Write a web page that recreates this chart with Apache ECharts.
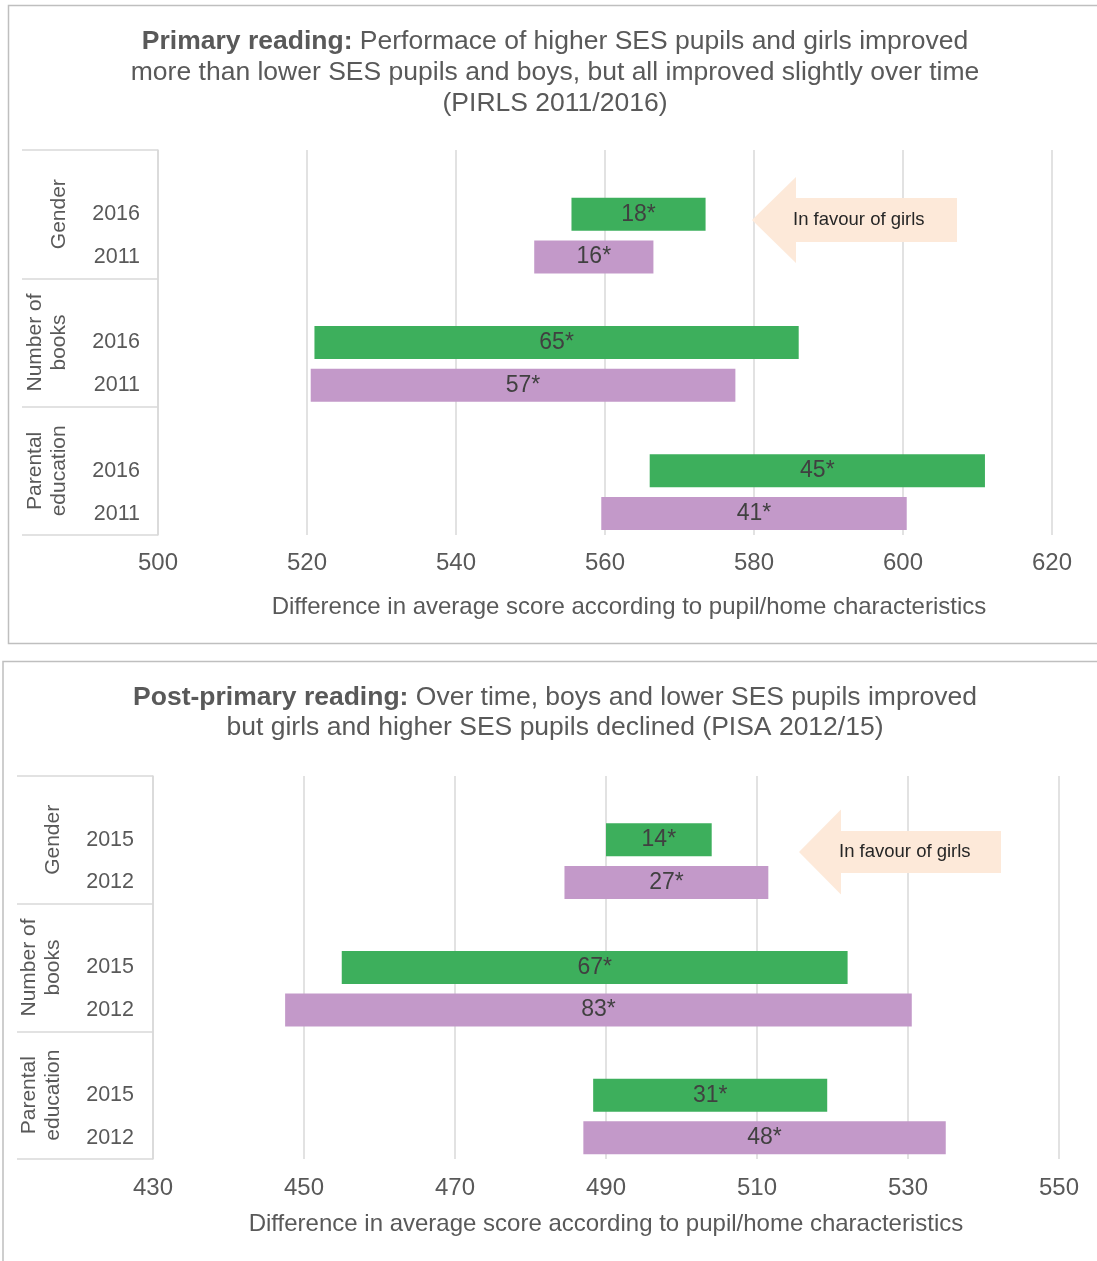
<!DOCTYPE html>
<html>
<head>
<meta charset="utf-8">
<title>Reading score gaps by pupil and home characteristics</title>
<script src="https://cdn.jsdelivr.net/npm/echarts@6/dist/echarts.min.js"></script>
<style>
  html, body { margin: 0; padding: 0; background: #ffffff; }
  #chart { width: 1097px; height: 1261px; }
</style>
</head>
<body>
<div id="chart"></div>
<script>
// Characteristic groups shown on the left of both charts
const groupLabels = ['Gender', 'Number of\nbooks', 'Parental\neducation'];

// Primary reading (PIRLS): years per group, recent first
const primaryYears = ['2016', '2011'];
// Lower end of each bar and the score gap it spans, row order:
// gender (2016, 2011), books (2016, 2011), parental education (2016, 2011)
const primaryLow = [555.5, 550.5, 521, 520.5, 566, 559.5];
const primaryGap = [18, 16, 65, 57, 45, 41];
const primaryTicks = [500, 520, 540, 560, 580, 600, 620];

// Post-primary reading (PISA): years per group, recent first
const postYears = ['2015', '2012'];
const postLow = [490, 484.5, 455, 447.5, 488.3, 487];
const postGap = [14, 27, 67, 83, 31, 48];
const postTicks = [430, 450, 470, 490, 510, 530, 550];

const axisTitle = 'Difference in average score according to pupil/home characteristics';
const arrowText = 'In favour of girls';

const FONT = '"Liberation Sans", Arial, sans-serif';
const TEXT = '#595959';
const GRID_LINE = '#d9d9d9';
const RECENT = '#3daf5c';
const EARLIER = '#c399c9';

// Each group gets an empty spacer row followed by one row per year
function buildRows(years) {
  const rows = [];
  groupLabels.forEach(function (g) {
    rows.push(g + '|');
    years.forEach(function (y) { rows.push(g + '|' + y); });
  });
  return rows;
}

function buildBase(low) {
  const out = [];
  for (let g = 0; g < groupLabels.length; g++) {
    out.push('-');
    out.push(low[g * 2], low[g * 2 + 1]);
  }
  return out;
}

function buildRange(gap) {
  const out = [];
  for (let g = 0; g < groupLabels.length; g++) {
    out.push('-');
    out.push({ value: gap[g * 2], itemStyle: { color: RECENT } });
    out.push({ value: gap[g * 2 + 1], itemStyle: { color: EARLIER } });
  }
  return out;
}

function xAxisFor(gridIndex, ticks, labelMargin, nameGap, namePad) {
  return {
    gridIndex: gridIndex,
    type: 'value',
    min: ticks[0],
    max: ticks[ticks.length - 1],
    interval: ticks[1] - ticks[0],
    axisLine: { show: false },
    axisTick: { show: false },
    splitLine: { show: true, showMinLine: true, showMaxLine: true, lineStyle: { color: GRID_LINE, width: 1.5 } },
    axisLabel: { color: TEXT, fontSize: 24, fontFamily: FONT, margin: labelMargin },
    name: axisTitle,
    nameLocation: 'middle',
    nameGap: nameGap,
    nameTextStyle: { color: TEXT, fontSize: 24, fontFamily: FONT, padding: namePad }
  };
}

function yearAxis(gridIndex, rows, margin) {
  return {
    gridIndex: gridIndex,
    type: 'category',
    data: rows,
    inverse: true,
    position: 'left',
    axisLine: { show: true, lineStyle: { color: GRID_LINE, width: 1.5 } },
    axisTick: { show: false },
    splitLine: { show: false },
    axisLabel: {
      color: TEXT, fontSize: 21.5, fontFamily: FONT, margin: margin,
      interval: 0,
      formatter: function (v) { return v.split('|')[1]; }
    }
  };
}

function groupAxis(gridIndex, tickLen, margin) {
  return {
    gridIndex: gridIndex,
    type: 'category',
    data: groupLabels,
    inverse: true,
    position: 'left',
    axisLine: { show: false },
    axisTick: { show: true, length: tickLen, lineStyle: { color: GRID_LINE, width: 1.5 } },
    splitLine: { show: false },
    axisLabel: {
      color: TEXT, fontSize: 21, fontFamily: FONT, margin: margin,
      rotate: 90, interval: 0, lineHeight: 24
    }
  };
}

function barSeries(xi, yi, low, gap, stackName) {
  return [
    {
      type: 'bar', xAxisIndex: xi, yAxisIndex: yi, stack: stackName,
      barWidth: 33, silent: true,
      itemStyle: { color: 'rgba(0,0,0,0)' },
      data: buildBase(low)
    },
    {
      type: 'bar', xAxisIndex: xi, yAxisIndex: yi, stack: stackName,
      barWidth: 33, silent: true,
      label: {
        show: true, position: 'inside', formatter: '{c}*',
        color: '#404040', fontSize: 23, fontFamily: FONT
      },
      data: buildRange(gap)
    }
  ];
}

// Left-pointing block arrow with its caption
function arrow(tipX, tipY, headX, headHalf, bodyHalf, endX, textX) {
  return [
    {
      type: 'polygon', z: 50,
      shape: {
        points: [
          [tipX, tipY], [headX, tipY - headHalf], [headX, tipY - bodyHalf],
          [endX, tipY - bodyHalf], [endX, tipY + bodyHalf], [headX, tipY + bodyHalf],
          [headX, tipY + headHalf]
        ]
      },
      style: { fill: '#fde9d9' }
    },
    {
      type: 'text', z: 51, x: textX, y: tipY,
      style: {
        text: arrowText, fill: '#262626', fontSize: 18.5, fontFamily: FONT,
        align: 'left', verticalAlign: 'middle'
      }
    }
  ];
}

const chart = echarts.init(document.getElementById('chart'), null, { renderer: 'canvas' });

const option = {
  animation: false,
  backgroundColor: '#ffffff',
  grid: [
    { left: 158, top: 150, width: 894, height: 385, containLabel: false },
    { left: 153, top: 776, width: 906, height: 383, containLabel: false }
  ],
  xAxis: [
    xAxisFor(0, primaryTicks, 16, 60, [0, 0, 0, 48]),
    xAxisFor(1, postTicks, 17, 53, 0)
  ],
  yAxis: [
    yearAxis(0, buildRows(primaryYears), 18),
    groupAxis(0, 136, 87),
    yearAxis(1, buildRows(postYears), 19),
    groupAxis(1, 136, 88)
  ],
  series: [].concat(
    barSeries(0, 0, primaryLow, primaryGap, 'primary'),
    barSeries(1, 2, postLow, postGap, 'post')
  ),
  graphic: [
    {
      type: 'rect', z: 0, silent: true,
      shape: { x: 8.5, y: 5.5, width: 1100, height: 638 },
      style: { fill: 'none', stroke: '#bfbfbf', lineWidth: 1.5 }
    },
    {
      type: 'rect', z: 0, silent: true,
      shape: { x: 3, y: 661.5, width: 1100, height: 620 },
      style: { fill: 'none', stroke: '#bfbfbf', lineWidth: 1.5 }
    },
    {
      type: 'text', z: 60, x: 555, y: 26,
      style: {
        text: '{b|Primary reading:} Performace of higher SES pupils and girls improved\n' +
              'more than lower SES pupils and boys, but all improved slightly over time\n' +
              '(PIRLS 2011/2016)',
        fill: TEXT, fontSize: 26.5, fontFamily: FONT, lineHeight: 31,
        align: 'center', verticalAlign: 'top',
        rich: { b: { fontWeight: 'bold', fontSize: 26.5, fontFamily: FONT, fill: TEXT, lineHeight: 31 } }
      }
    },
    {
      type: 'text', z: 60, x: 555, y: 683,
      style: {
        text: '{b|Post-primary reading:} Over time, boys and lower SES pupils improved\n' +
              'but girls and higher SES pupils declined (PISA 2012/15)',
        fill: TEXT, fontSize: 26.5, fontFamily: FONT, lineHeight: 30,
        align: 'center', verticalAlign: 'top',
        rich: { b: { fontWeight: 'bold', fontSize: 26.5, fontFamily: FONT, fill: TEXT, lineHeight: 30 } }
      }
    }
  ].concat(
    arrow(752, 220, 796, 43, 22, 957, 793),
    arrow(799, 852, 841, 42.5, 21, 1001, 839)
  )
};

chart.setOption(option);
</script>
</body>
</html>
